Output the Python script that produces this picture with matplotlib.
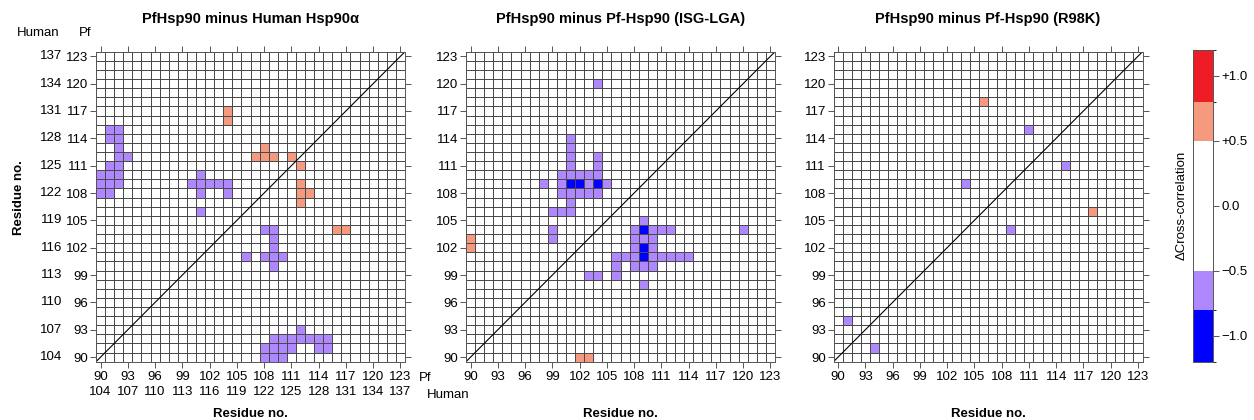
import numpy as np
import matplotlib
matplotlib.use('Agg')
import matplotlib.pyplot as plt
from matplotlib.colors import ListedColormap, BoundaryNorm
from matplotlib.cm import ScalarMappable

plt.rcParams['font.family'] = ['Liberation Sans', 'DejaVu Sans']

# residue range (Pf numbering); Human = Pf + 14
res_start, res_end = 90, 123
human_offset = 14

titles = ["PfHsp90 minus Human Hsp90\u03b1",
          "PfHsp90 minus Pf-Hsp90 (ISG-LGA)",
          "PfHsp90 minus Pf-Hsp90 (R98K)"]

# cells (x, y) above the diagonal, the matrices are symmetric
p1_neg = [(91, 115), (92, 115), (91, 114), (92, 114), (92, 113), (92, 112), (93, 112),
          (91, 111), (92, 111), (90, 110), (91, 110), (92, 110), (90, 109), (91, 109),
          (92, 109), (90, 108), (91, 108),
          (101, 110), (100, 109), (101, 109), (102, 109), (103, 109), (104, 109),
          (101, 108), (104, 108), (101, 106)]
p1_strong = []
p1_pos = [(104, 117), (104, 116), (108, 113), (107, 112), (108, 112), (109, 112), (111, 112)]

p2_neg = [(104, 120), (101, 114), (101, 113), (101, 112), (104, 112), (101, 111), (104, 111),
          (100, 110), (101, 110), (102, 110), (103, 110), (104, 110),
          (98, 109), (100, 109), (103, 109), (105, 109),
          (100, 108), (101, 108), (102, 108), (103, 108), (104, 108),
          (101, 107), (99, 106), (100, 106), (101, 106), (99, 104), (99, 103)]
p2_strong = [(101, 109), (102, 109), (104, 109)]
p2_pos = [(90, 103), (90, 102)]

p3_neg = [(111, 115), (104, 109), (91, 94)]
p3_strong = []
p3_pos = [(106, 118)]

level_neg, level_strong, level_pos = -0.65, -1.0, 0.65

bounds = [-1.2, -0.8, -0.5, 0.5, 0.8, 1.2]
colors = ['#0000ff', '#af88ff', '#ffffff', '#f59a7e', '#ee1d25']
cmap = ListedColormap(colors)
norm = BoundaryNorm(bounds, cmap.N)


def build(neg, strong, pos):
    n = res_end - res_start + 1
    m = np.zeros((n, n))
    for cells, v in ((neg, level_neg), (strong, level_strong), (pos, level_pos)):
        for x, y in cells:
            m[y - res_start, x - res_start] = v
            m[x - res_start, y - res_start] = v
    return m


mats = [build(p1_neg, p1_strong, p1_pos),
        build(p2_neg, p2_strong, p2_pos),
        build(p3_neg, p3_strong, p3_pos)]

W, H = 1254, 420
fig = plt.figure(figsize=(W / 100, H / 100), dpi=100)

edges = np.arange(res_start - 0.5, res_end + 1.5, 1)
ticks = np.arange(res_start, res_end + 1, 3)
lefts = [96, 466, 833.5]
for i in range(3):
    ax = fig.add_axes([lefts[i] / W, 1 - 361.7 / H, 309 / W, 310 / H])
    ax.pcolormesh(edges, edges, mats[i], cmap=cmap, norm=norm,
                  edgecolors='#4a4a4a', linewidth=0.6)
    ax.plot([edges[0], edges[-1]], [edges[0], edges[-1]], color='black', lw=0.8)
    ax.set_xlim(edges[0], edges[-1])
    ax.set_ylim(edges[0], edges[-1])
    ax.set_xticks(ticks)
    ax.set_yticks(ticks)
    ax.tick_params(direction='out', length=4, width=0.7, color='#555555',
                   top=True, right=True, labelsize=9.5)
    ax.tick_params(axis='x', pad=3)
    ax.tick_params(axis='y', pad=1.5)
    for s in ax.spines.values():
        s.set_color('#555555')
        s.set_linewidth(0.7)
    ax.set_title(titles[i], fontsize=10.5, fontweight='bold', pad=21)
    ax.set_xlabel('Residue no.', fontsize=9.5, fontweight='bold')
    ax.xaxis.set_label_coords(0.5, -0.15)

    if i == 0:
        ax.set_xticklabels([f"{t}\n{t + human_offset}" for t in ticks])
        for lbl in ax.get_xticklabels():
            lbl.set_linespacing(1.3)
        for t in ticks:
            ax.annotate(str(t + human_offset), xy=(0, t), xycoords=('axes fraction', 'data'),
                        xytext=(-24.5, 0), textcoords='offset points',
                        ha='right', va='center', fontsize=9.5)
        ax.text(1.045, -0.052, 'Pf', transform=ax.transAxes, ha='left', va='center', fontsize=9.5)
        ax.text(1.072, -0.106, 'Human', transform=ax.transAxes, ha='left', va='center', fontsize=9.5)
        fig.text(60 / W, 1 - 33 / H, 'Human', ha='right', va='center', fontsize=9.5)
        fig.text(91 / W, 1 - 33 / H, 'Pf', ha='right', va='center', fontsize=9.5)
        ax.set_ylabel('Residue no.', fontsize=9.5, fontweight='bold')
        ax.yaxis.set_label_coords(-0.23, 0.53)

cax = fig.add_axes([1193 / W, 1 - 361.7 / H, 20 / W, 311.7 / H])
cb = fig.colorbar(ScalarMappable(norm=norm, cmap=cmap), cax=cax,
                  ticks=[-1.0, -0.5, 0.0, 0.5, 1.0], spacing='proportional')
cb.set_ticklabels(['\u22121.0', '\u22120.5', '0.0', '+0.5', '+1.0'])
cb.outline.set_edgecolor('#555555')
cb.outline.set_linewidth(0.7)
cax.tick_params(length=4, width=0.7, color='#555555', labelsize=9.5, pad=2)
cb.set_label('\u0394Cross-correlation', fontsize=9.5)
cax.yaxis.set_label_position('left')

fig.savefig('out.png', dpi=100)
